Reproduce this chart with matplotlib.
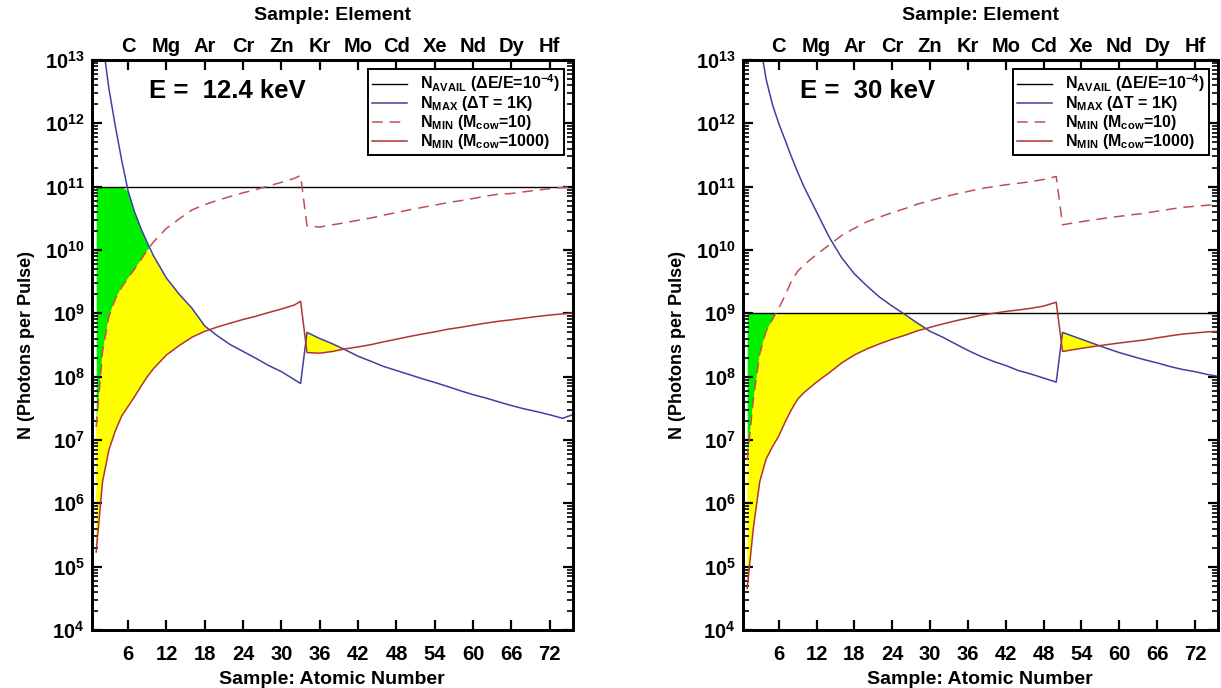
import numpy as np
import matplotlib.pyplot as plt
from matplotlib.ticker import LogLocator, NullFormatter

plt.rcParams['font.family'] = ['Liberation Sans', 'DejaVu Sans']
plt.rcParams['font.weight'] = 'bold'
plt.rcParams['mathtext.fontset'] = 'custom'
plt.rcParams['mathtext.rm'] = 'Liberation Sans:bold'
plt.rcParams['mathtext.it'] = 'Liberation Sans:bold'
plt.rcParams['mathtext.bf'] = 'Liberation Sans:bold'

# top axis: element names at every 6th atomic number
z_ticks = [6, 12, 18, 24, 30, 36, 42, 48, 54, 60, 66, 72]
elements = ['C', 'Mg', 'Ar', 'Cr', 'Zn', 'Kr', 'Mo', 'Cd', 'Xe', 'Nd', 'Dy', 'Hf']
decades = [4, 5, 6, 7, 8, 9, 10, 11, 12, 13]

# ---- E = 12.4 keV panel
z_12 = [1, 2, 3, 4, 5, 6, 7, 8, 9, 10, 12, 14, 16, 18, 20, 22, 24, 26, 28, 30, 32, 33,
        34, 36, 38, 40, 42, 44, 46, 48, 50, 52, 54, 56, 58, 60, 62, 64, 66, 68, 70, 72, 74, 76]
navail_12 = 1e11
nmax_12 = [3e14, 2.0e13, 3.5e12, 9e11, 2.6e11, 8.5e10, 4.0e10, 2.2e10, 1.3e10, 8.0e9,
           3.6e9, 2.0e9, 1.2e9, 6.3e8, 4.4e8, 3.2e8, 2.5e8, 1.95e8, 1.5e8, 1.2e8, 9.0e7, 7.8e7,
           5.0e8, 4.0e8, 3.3e8, 2.65e8, 2.1e8, 1.75e8, 1.45e8, 1.25e8, 1.08e8, 9.3e7, 8.1e7,
           7.0e7, 6.0e7, 5.2e7, 4.6e7, 4.0e7, 3.5e7, 3.1e7, 2.8e7, 2.5e7, 2.2e7, 2.6e7]
nmin10_12 = [1.6e7, 2.5e8, 9.0e8, 1.7e9, 2.6e9, 3.6e9, 5.0e9, 7.0e9, 1.0e10, 1.35e10,
             2.2e10, 3.1e10, 4.3e10, 5.2e10, 6.1e10, 7.0e10, 8.0e10, 9.0e10, 1.03e11, 1.17e11,
             1.35e11, 1.5e11, 2.4e10, 2.3e10, 2.5e10, 2.7e10, 2.95e10, 3.2e10, 3.55e10, 3.9e10,
             4.3e10, 4.7e10, 5.1e10, 5.6e10, 6.0e10, 6.5e10, 7.1e10, 7.6e10, 7.8e10, 8.3e10,
             8.8e10, 9.3e10, 9.7e10, 1.0e11]
nmin1000_12 = [1.7e5, 2.2e6, 7.0e6, 1.4e7, 2.4e7, 3.4e7, 4.8e7, 7.0e7, 1.0e8, 1.35e8,
               2.2e8, 3.1e8, 4.2e8, 5.2e8, 6.1e8, 7.0e8, 8.0e8, 9.0e8, 1.03e9, 1.17e9,
               1.35e9, 1.55e9, 2.4e8, 2.35e8, 2.5e8, 2.75e8, 2.95e8, 3.2e8, 3.55e8, 3.9e8,
               4.3e8, 4.7e8, 5.1e8, 5.6e8, 6.0e8, 6.5e8, 7.0e8, 7.5e8, 7.9e8, 8.4e8,
               8.9e8, 9.4e8, 9.8e8, 1.02e9]

# ---- E = 30 keV panel
z_30 = [1, 2, 3, 4, 5, 6, 7, 8, 9, 10, 12, 14, 16, 18, 20, 22, 24, 26, 28, 30, 32, 34,
        36, 38, 40, 42, 44, 46, 48, 50, 51, 52, 54, 56, 58, 60, 62, 64, 66, 68, 70, 72, 74, 76]
navail_30 = 1e9
nmax_30 = [5e15, 3e14, 2.0e13, 5.0e12, 2.0e12, 1.0e12, 5.5e11, 3.0e11, 1.7e11, 1.0e11,
           4.0e10, 1.6e10, 7.5e9, 4.2e9, 2.7e9, 1.8e9, 1.3e9, 9.6e8, 7.0e8, 5.2e8, 4.2e8,
           3.3e8, 2.6e8, 2.1e8, 1.75e8, 1.5e8, 1.25e8, 1.1e8, 9.5e7, 8.2e7,
           5.0e8, 4.6e8, 3.9e8, 3.3e8, 2.8e8, 2.4e8, 2.1e8, 1.85e8, 1.65e8, 1.45e8,
           1.3e8, 1.2e8, 1.08e8, 1.0e8]
nmin10_30 = [4.8e6, 4.5e7, 2.3e8, 5.2e8, 8.0e8, 1.2e9, 1.9e9, 3.2e9, 4.6e9, 5.8e9,
             8.5e9, 1.2e10, 1.7e10, 2.2e10, 2.8e10, 3.3e10, 3.9e10, 4.5e10, 5.3e10, 6.0e10,
             6.8e10, 7.6e10, 8.4e10, 9.3e10, 1.0e11, 1.07e11, 1.13e11, 1.2e11, 1.3e11, 1.45e11,
             2.5e10, 2.6e10, 2.8e10, 3.0e10, 3.2e10, 3.4e10, 3.6e10, 3.8e10, 4.1e10, 4.4e10,
             4.7e10, 4.9e10, 5.1e10, 5.2e10]
nmin1000_30 = [4.5e4, 4.2e5, 2.2e6, 5.0e6, 7.8e6, 1.15e7, 1.9e7, 3.0e7, 4.4e7, 5.6e7,
               8.2e7, 1.15e8, 1.65e8, 2.2e8, 2.75e8, 3.3e8, 3.9e8, 4.5e8, 5.3e8, 6.0e8,
               6.8e8, 7.6e8, 8.4e8, 9.3e8, 1.0e9, 1.07e9, 1.13e9, 1.2e9, 1.3e9, 1.5e9,
               2.5e8, 2.6e8, 2.8e8, 3.0e8, 3.2e8, 3.4e8, 3.6e8, 3.8e8, 4.1e8, 4.4e8,
               4.7e8, 4.9e8, 5.1e8, 5.2e8]

GREEN = '#00f000'
YELLOW = '#ffff00'
BLUE = '#4040a0'
RED = '#b03434'
RED_DASH = '#c05050'


def draw_panel(ax, z, navail, nmax, nmin10, nmin1000, energy):
    z = np.array(z, dtype=float)
    nmax = np.array(nmax)
    nmin10 = np.array(nmin10)
    nmin1000 = np.array(nmin1000)
    avail = np.full_like(z, navail)

    top = np.minimum(avail, nmax)
    upper_y = np.minimum(top, nmin10)
    ax.fill_between(z, nmin10, top, where=top > nmin10, interpolate=True,
                    color=GREEN, linewidth=0, zorder=1)
    ax.fill_between(z, nmin1000, upper_y, where=upper_y > nmin1000, interpolate=True,
                    color=YELLOW, linewidth=0, zorder=1)

    ax.plot(z, avail, color='black', lw=1.0, zorder=3,
            label=r'N$_{\mathrm{AVAIL}}$ (ΔE/E=10$^{\mathrm{-4}}$)')
    ax.plot(z, nmax, color=BLUE, lw=1.1, zorder=3,
            label=r'N$_{\mathrm{MAX}}$ (ΔT = 1K)')
    ax.plot(z, nmin10, color=RED_DASH, lw=1.1, ls=(0, (7, 4.5)), zorder=3,
            label=r'N$_{\mathrm{MIN}}$ (M$_{\mathrm{cow}}$=10)')
    ax.plot(z, nmin1000, color=RED, lw=1.1, zorder=3,
            label=r'N$_{\mathrm{MIN}}$ (M$_{\mathrm{cow}}$=1000)')

    ax.set_yscale('log')
    ax.set_ylim(1e4, 1e13)
    ax.set_xlim(0.3, 75.6)

    ax.set_yticks([10.0 ** d for d in decades])
    ax.set_yticklabels([r'10$^{%d}$' % d for d in decades])
    ax.yaxis.set_minor_locator(LogLocator(base=10, subs=np.arange(2, 10), numticks=20))
    ax.yaxis.set_minor_formatter(NullFormatter())
    ax.set_xticks(z_ticks)
    ax.tick_params(axis='both', which='major', direction='in', length=7, width=1.6,
                   labelsize=14.5)
    ax.tick_params(axis='x', pad=11)
    ax.tick_params(axis='y', pad=5)
    ax.tick_params(axis='y', which='both', left=True, right=True)
    ax.tick_params(axis='y', which='minor', direction='in', length=4, width=1.2)
    ax.tick_params(axis='x', top=False)
    for s in ax.spines.values():
        s.set_linewidth(2)

    ax.set_xlabel('Sample: Atomic Number', fontsize=14, fontweight='bold', labelpad=5)
    ax.set_ylabel('N (Photons per Pulse)', fontsize=13, fontweight='bold', labelpad=7)

    twin = ax.twiny()
    twin.set_xlim(ax.get_xlim())
    twin.set_xticks(z_ticks)
    twin.set_xticklabels(elements)
    twin.tick_params(axis='x', direction='in', length=7, width=1.6, labelsize=14.5, pad=3)
    twin.set_xlabel('Sample: Element', fontsize=14, fontweight='bold', labelpad=12)
    for s in twin.spines.values():
        s.set_linewidth(2)

    ax.text(0.12, 0.945, 'E =  %s keV' % energy, transform=ax.transAxes,
            fontsize=18.5, fontweight='bold', va='center', ha='left')

    leg = ax.legend(loc='upper right', fontsize=11.5, frameon=True, fancybox=False,
                    edgecolor='black', framealpha=1, handlelength=2.2,
                    labelspacing=0.0, borderpad=0.25, borderaxespad=0.55,
                    handletextpad=0.8)
    leg.get_frame().set_linewidth(1.4)
    leg.set_zorder(5)


fig = plt.figure(figsize=(12.21, 6.88), dpi=100)
ax1 = fig.add_axes([0.0751, 0.0843, 0.394, 0.8285])
ax2 = fig.add_axes([0.6083, 0.0843, 0.389, 0.8285])

draw_panel(ax1, z_12, navail_12, nmax_12, nmin10_12, nmin1000_12, '12.4')
draw_panel(ax2, z_30, navail_30, nmax_30, nmin10_30, nmin1000_30, '30')

fig.savefig('out.png', dpi=100)
